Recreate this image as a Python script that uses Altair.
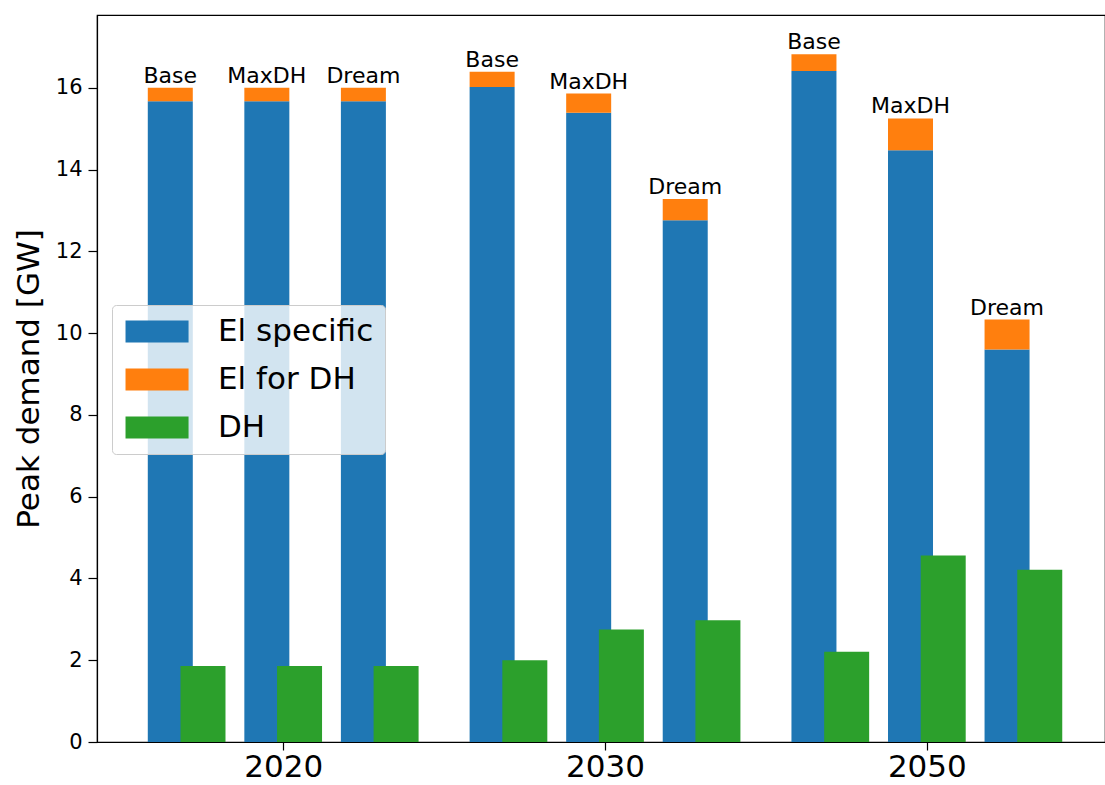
import json
import altair as alt
import pandas as pd

years = ["2020", "2030", "2050"]
scenarios = ["Base", "MaxDH", "Dream"]
components = ["El specific", "El for DH", "DH"]
colors = ["#1f77b4", "#ff7f0e", "#2ca02c"]

# values per (year, scenario), in order 2020 Base..Dream, 2030 ..., 2050 ...
el_specific = [15.67, 15.67, 15.67, 16.02, 15.39, 12.76, 16.41, 14.47, 9.60]
el_for_dh = [0.33, 0.33, 0.33, 0.37, 0.47, 0.52, 0.41, 0.78, 0.73]
dh = [1.86, 1.86, 1.86, 2.00, 2.75, 2.98, 2.21, 4.56, 4.21]

rows = []
for gi, yr in enumerate(years):
    for si, sc in enumerate(scenarios):
        k = gi * 3 + si
        tot = el_specific[k] + el_for_dh[k]
        rows.append(dict(group=gi, slot=si, side=-1, year=yr, scenario=sc,
                         component="El specific", lo=0.0, hi=el_specific[k], total=tot))
        rows.append(dict(group=gi, slot=si, side=-1, year=yr, scenario=sc,
                         component="El for DH", lo=el_specific[k], hi=tot, total=tot))
        rows.append(dict(group=gi, slot=si, side=1, year=yr, scenario=sc,
                         component="DH", lo=0.0, hi=dh[k], total=tot))
df = pd.DataFrame(rows)

FONT = "DejaVu Sans"

base = alt.Chart(df).transform_calculate(
    xpos="datum.group + (datum.slot - 1) * 0.3 + datum.side * 0.0508"
)

xscale = alt.Scale(domain=[-0.563, 2.538], nice=False, zero=False)
yscale = alt.Scale(domain=[0, 17.78], nice=False)
cscale = alt.Scale(domain=components, range=colors)

xaxis = alt.Axis(values=[0, 1, 2], labelExpr=json.dumps(years) + "[datum.value]",
                 title=None, grid=False, labelFontSize=31, labelFont=FONT,
                 labelColor="black", tickColor="black", domainColor="black",
                 tickSize=8, labelPadding=2, domainWidth=1.2, tickWidth=1.2)
yaxis = alt.Axis(values=list(range(0, 17, 2)), title="Peak demand [GW]", grid=False,
                 labelFontSize=21, labelFont=FONT, labelColor="black",
                 titleFontSize=31, titleFont=FONT, titleFontWeight="normal",
                 titleColor="black", tickColor="black", domainColor="black",
                 tickSize=9, labelPadding=6, titleX=-59, titleY=363.5,
                 titleBaseline="alphabetic", titleAngle=270,
                 domainWidth=1.2, tickWidth=1.2)

legend = alt.Legend(
    title=None, orient="none", legendX=15, legendY=290,
    symbolType="M-1.18,-1L4.55,-1L4.55,1L-1.18,1Z", symbolSize=484,
    symbolStrokeWidth=0, symbolOpacity=1,
    labelFontSize=31, labelFont=FONT, labelColor="black", labelOffset=64,
    rowPadding=16, padding=11, fillColor="rgba(255,255,255,0.8)",
    strokeColor="#cccccc", cornerRadius=4,
)

bars_el = base.transform_filter(alt.datum.side == -1).mark_bar(size=45).encode(
    x=alt.X("xpos:Q", scale=xscale, axis=xaxis),
    y=alt.Y("lo:Q", scale=yscale, axis=yaxis),
    y2="hi:Q",
    color=alt.Color("component:N", scale=cscale, legend=legend),
)

bars_dh = base.transform_filter(alt.datum.side == 1).mark_bar(size=45).encode(
    x=alt.X("xpos:Q", scale=xscale),
    y=alt.Y("lo:Q", scale=yscale),
    y2="hi:Q",
    color=alt.Color("component:N", scale=cscale, legend=legend),
)

labels = base.transform_filter(alt.datum.component == "El specific").mark_text(
    baseline="alphabetic", dy=-5, fontSize=22, font=FONT, color="black"
).encode(
    x=alt.X("xpos:Q", scale=xscale),
    y=alt.Y("total:Q", scale=yscale),
    text="scenario:N",
)

chart = alt.layer(bars_el, bars_dh, labels).properties(
    width=1008, height=727,
    autosize=alt.AutoSizeParams(type="none"),
    padding={"left": 97, "top": 15, "right": 0, "bottom": 43},
    background="white",
).configure_view(stroke="black", strokeWidth=1.2)

chart.save("out.html", embed_options={"renderer": "svg", "actions": False})
